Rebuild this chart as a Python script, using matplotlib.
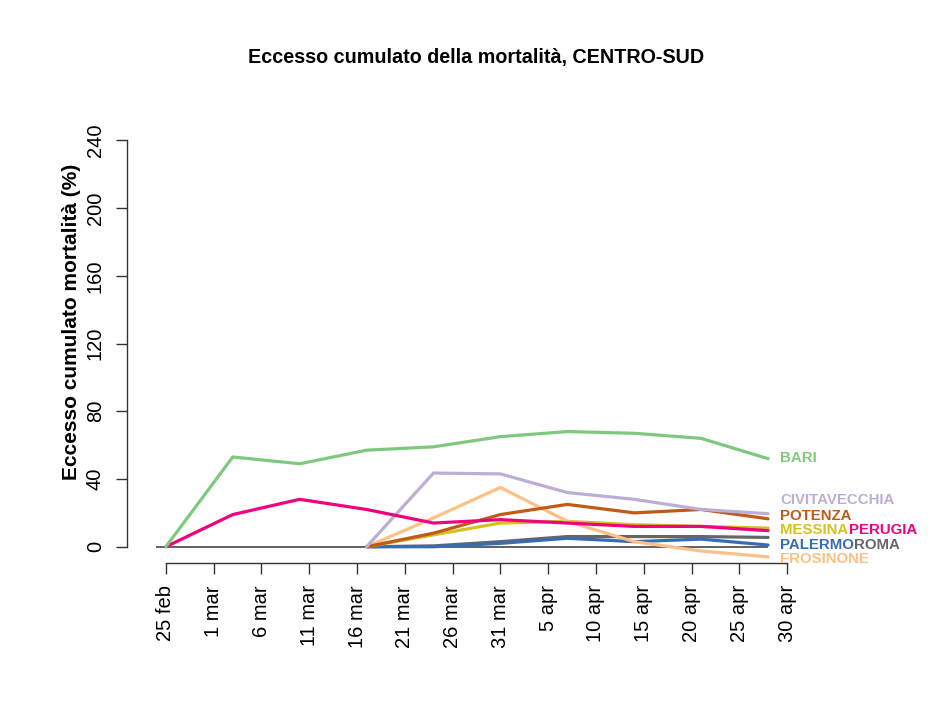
import numpy as np
import matplotlib
matplotlib.use("Agg")
import matplotlib.pyplot as plt

plt.rcParams['font.family'] = ['Liberation Sans', 'DejaVu Sans']

# ── dati (giorni dal 25 feb 2020, cadenza settimanale) ──
days = [0, 7, 14, 21, 28, 35, 42, 49, 56, 63]
nan = np.nan

bari          = [0, 53, 49, 57, 59, 65, 68, 67, 64, 52]
perugia       = [0, 19, 28, 22, 14, 16, 14, 12, 12, 9.5]
civitavecchia = [nan, nan, nan, 0, 43.5, 43, 32, 28, 22, 19.5]
frosinone     = [nan, nan, nan, 0, 17, 35, 15, 3, -2.5, -6]
potenza       = [nan, nan, nan, 0, 8, 19, 25, 20, 22, 16.5]
messina       = [nan, nan, nan, 0, 7, 14, 15, 13, 12, 11]
roma          = [nan, nan, nan, 0, 0.5, 3, 6, 6, 6, 5.5]
palermo       = [nan, nan, nan, 0, 0, 2, 5, 3, 4.5, 1]

tick_days = list(range(0, 66, 5))
tick_labels = ['25 feb', '1 mar', '6 mar', '11 mar', '16 mar', '21 mar', '26 mar',
               '31 mar', '5 apr', '10 apr', '15 apr', '20 apr', '25 apr', '30 apr']
y_ticks = [0, 40, 80, 120, 160, 200, 240]

# nome, serie, colore
series = [
    ('ROMA', roma, '#666666'),
    ('PALERMO', palermo, '#386cb0'),
    ('MESSINA', messina, '#d4c020'),
    ('FROSINONE', frosinone, '#fdc086'),
    ('POTENZA', potenza, '#bf5b17'),
    ('CIVITAVECCHIA', civitavecchia, '#beaed4'),
    ('PERUGIA', perugia, '#f0027f'),
    ('BARI', bari, '#7fc97f'),
]
colors = {name: c for name, _, c in series}

fig = plt.figure(figsize=(9.47, 7.2), dpi=100)
W, H = 947, 720
# area del grafico in pixel (sinistra, destra, alto, basso)
L, R, T, B = 141, 812, 124, 563
ax = fig.add_axes([L / W, 1 - B / H, (R - L) / W, (B - T) / H])

ax.hlines(0, days[0] - 1, days[-1], color='#555555', lw=1.3, zorder=1)
for name, vals, col in series:
    ax.plot(days, vals, color=col, lw=2.3, solid_capstyle='round', zorder=2)

ax.set_xlim(-2.6, 67.6)
ax.set_ylim(-9.6, 249.6)

# etichette a destra
x_lab = days[-1] + 1.3
lab_kw = dict(fontsize=10.8, fontweight='bold', va='center', ha='left',
              annotation_clip=False)
ax.annotate('BARI', (x_lab, 52.5), color=colors['BARI'], **lab_kw)
ax.annotate('CIVITAVECCHIA', (x_lab, 27.5), color=colors['CIVITAVECCHIA'], **lab_kw)
ax.annotate('POTENZA', (x_lab, 18.3), color=colors['POTENZA'], **lab_kw)
t_me = ax.annotate('MESSINA', (x_lab, 9.8), color=colors['MESSINA'], **lab_kw)
ax.annotate('PERUGIA', xy=(1, 0.5), xycoords=t_me, color=colors['PERUGIA'], **lab_kw)
t_pa = ax.annotate('PALERMO', (x_lab, 1.0), color=colors['PALERMO'], **lab_kw)
ax.annotate('ROMA', xy=(1, 0.5), xycoords=t_pa, color=colors['ROMA'], **lab_kw)
ax.annotate('FROSINONE', (x_lab, -7.2), color=colors['FROSINONE'], **lab_kw)

# assi stile R
for s in ['top', 'right']:
    ax.spines[s].set_visible(False)
ax.spines['left'].set_position(('outward', 10))
ax.spines['left'].set_bounds(0, 240)
ax.spines['bottom'].set_bounds(0, 65)
for s in ['left', 'bottom']:
    ax.spines[s].set_color('#333333')
    ax.spines[s].set_linewidth(1.0)

ax.set_xticks(tick_days)
ax.set_xticklabels(tick_labels, rotation=90, fontsize=14.5)
ax.set_yticks(y_ticks)
ax.set_yticklabels([str(v) for v in y_ticks], rotation=90, va='center', fontsize=14.5)
ax.tick_params(axis='both', length=8, width=1.0, color='#333333', pad=8)

fig.text(72 / W, 1 - 322 / H, 'Eccesso cumulato mortalità (%)', rotation=90,
         ha='center', va='center', fontsize=15, fontweight='bold')
fig.text(476 / W, 1 - 57 / H, 'Eccesso cumulato della mortalità, CENTRO-SUD',
         ha='center', va='center', fontsize=14.2, fontweight='bold')

fig.savefig('out.png', dpi=100)
